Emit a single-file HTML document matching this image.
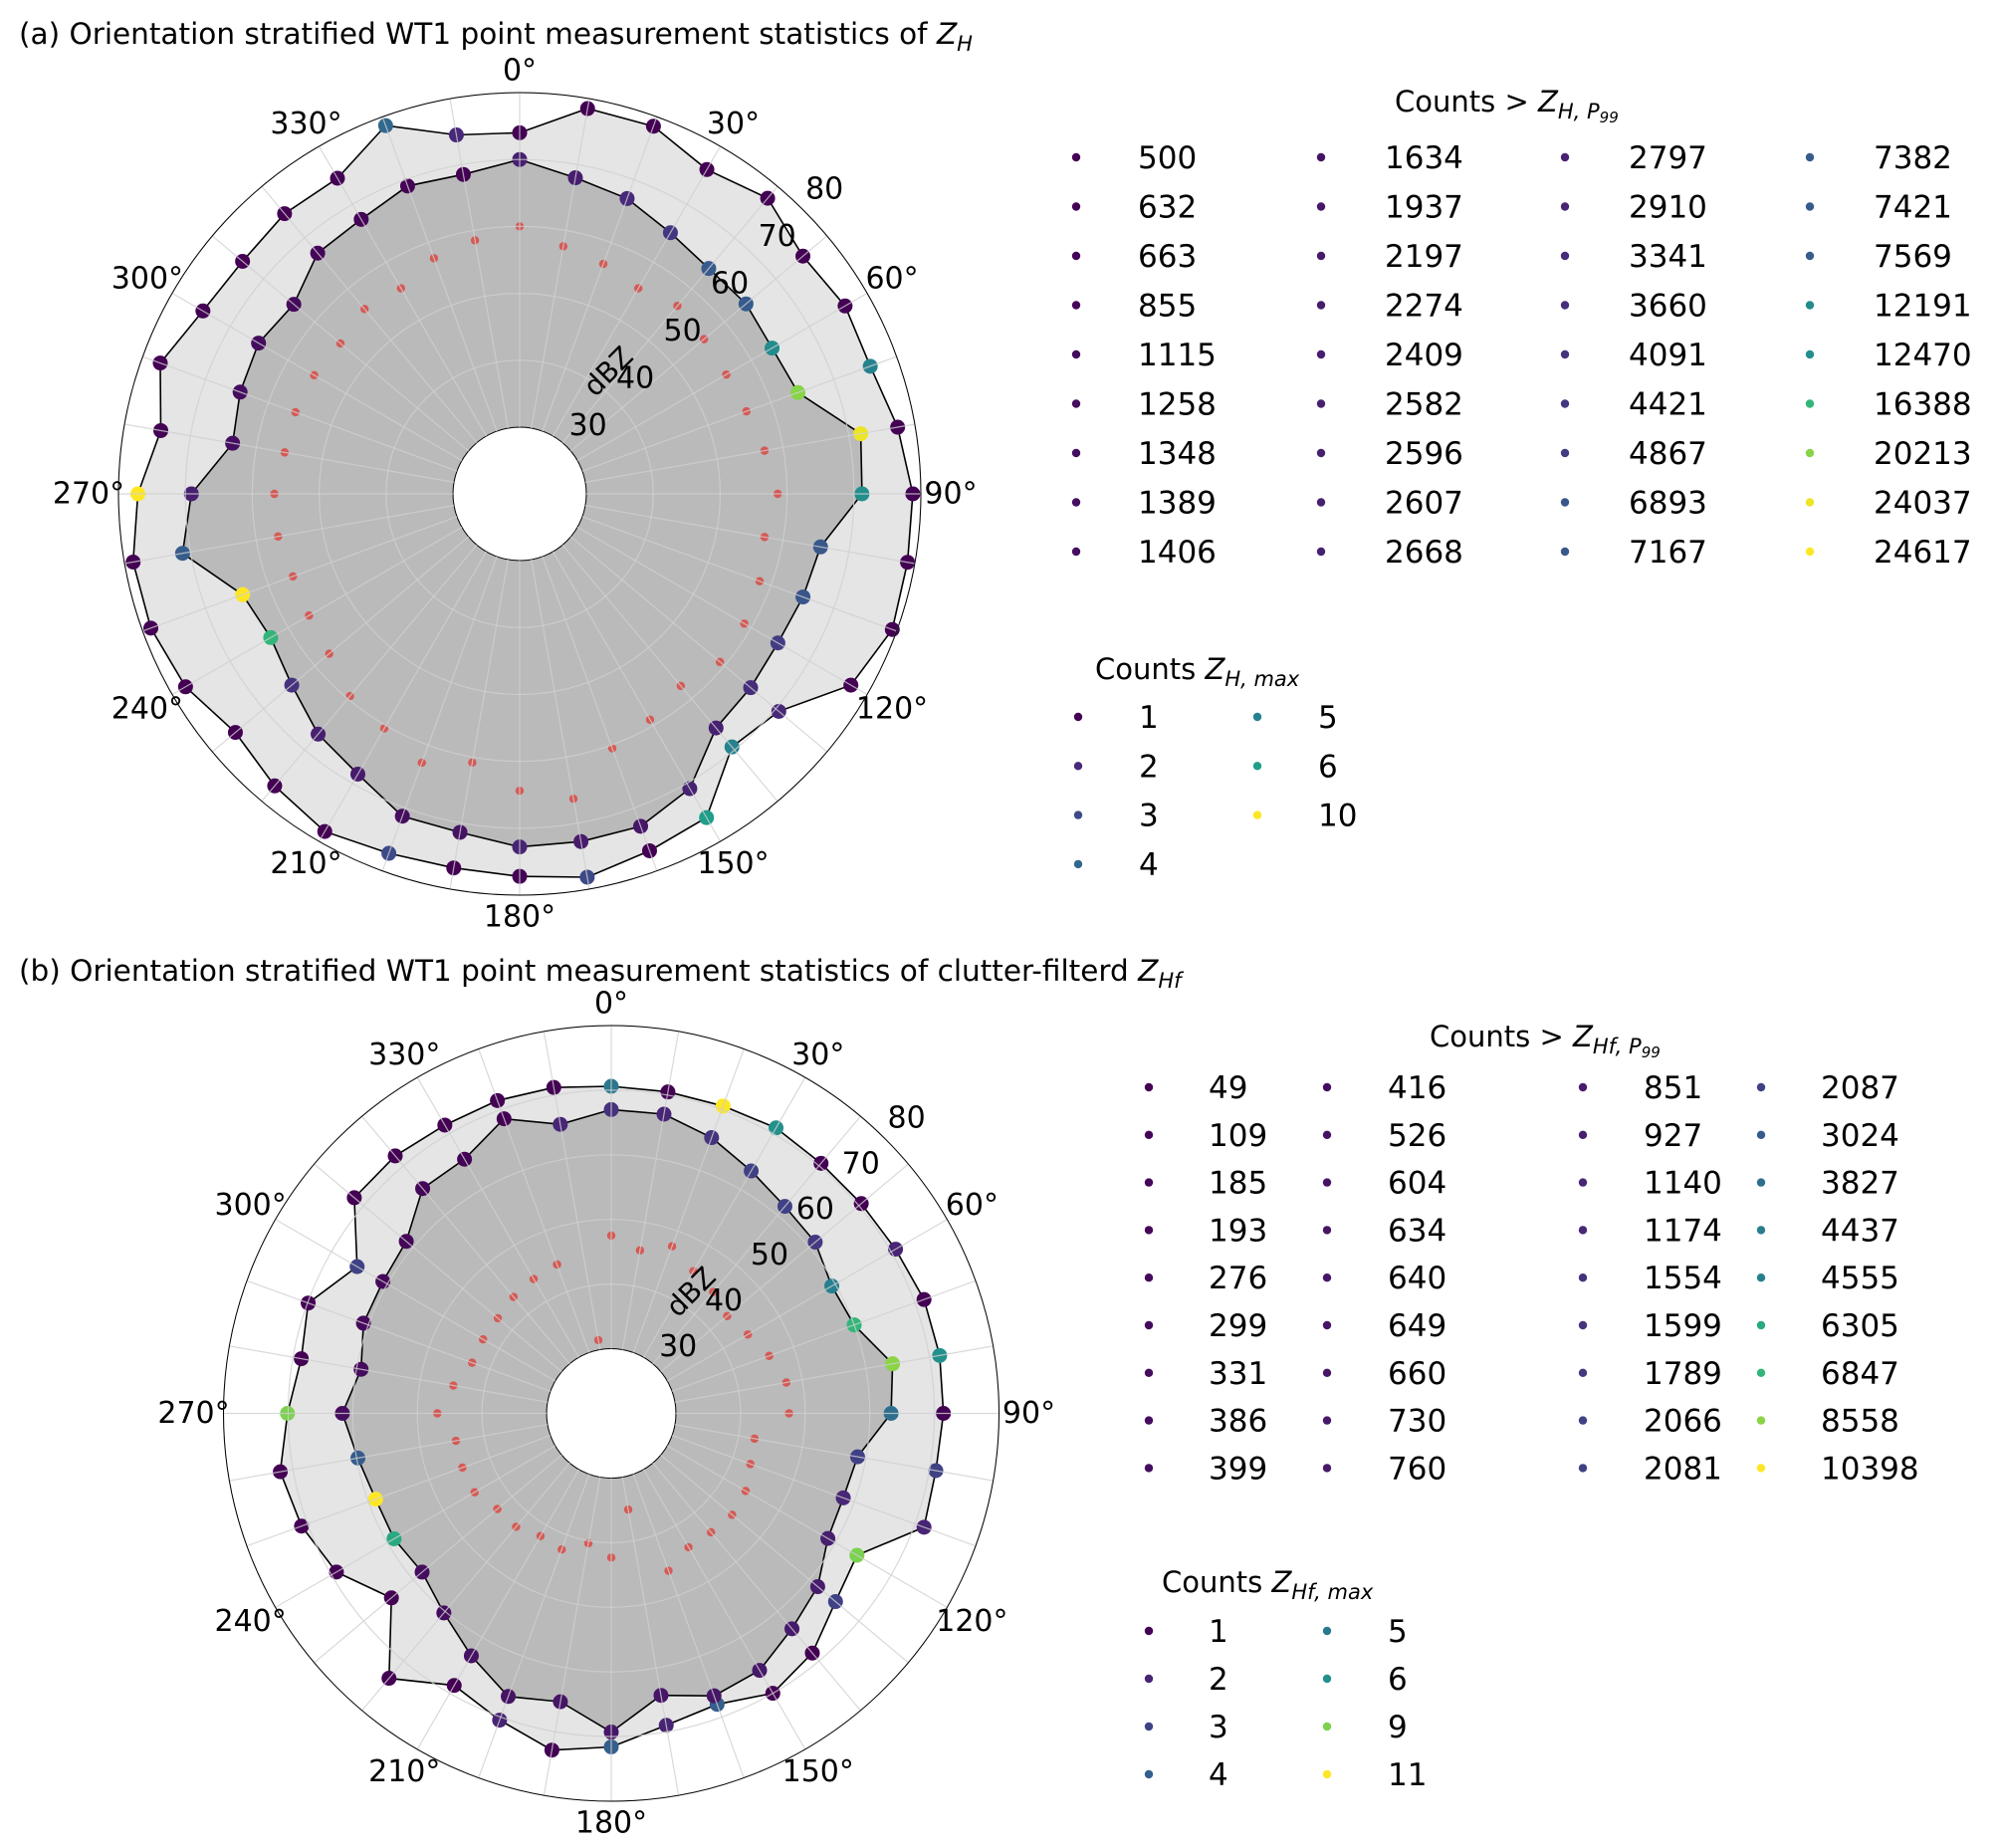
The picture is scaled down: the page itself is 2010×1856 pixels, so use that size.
<!DOCTYPE html>
<html><head><meta charset="utf-8">
<style>
html,body{margin:0;padding:0;background:#fff;}
svg{display:block;font-family:"DejaVu Sans","Liberation Sans",sans-serif;}
</style></head>
<body>
<svg id="fig" xmlns="http://www.w3.org/2000/svg" width="2010" height="1856" viewBox="0 0 2010 1856">
<text x="19" y="44" font-size="29.5">(a) Orientation stratified WT1 point measurement statistics of <tspan font-style="italic">Z</tspan><tspan font-style="italic" font-size="21" dy="7">H</tspan></text>
<text x="19" y="985" font-size="29.5">(b) Orientation stratified WT1 point measurement statistics of clutter-filterd <tspan font-style="italic">Z</tspan><tspan font-style="italic" font-size="21" dy="7">Hf</tspan></text>
<g id="chartA"></g>
<g id="chartB"></g>
<g id="legends"></g>
</svg>
<script>
const angles = [0,10,20,30,40,50,60,70,80,90,100,110,120,130,140,150,160,170,180,190,200,210,220,230,240,250,260,270,280,290,300,310,320,330,340,350];
const radialTicks = [30,40,50,60,70,80];
const angleTicks = [0,30,60,90,120,150,180,210,240,270,300,330];

// Chart A
const maxA = [74.0,78.5,78.5,76.0,77.7,75.3,76.2,75.8,77.4,78.8,78.9,79.3,77.2,70.6,69.4,75.9,76.8,78.2,77.2,76.8,77.2,78.3,77.0,75.5,77.7,78.7,78.7,77.1,74.5,77.2,74.7,74.1,74.7,74.5,78.6,74.5];
const p99A = [70.0,68.0,67.0,65.1,64.0,64.2,63.6,64.3,71.8,71.2,65.7,65.1,64.6,65.1,65.7,70.9,72.9,72.8,72.8,71.4,71.3,68.4,66.9,64.5,63.0,64.1,71.2,69.1,63.6,64.5,65.1,64.1,67.0,67.4,69.0,68.5];
const medA = [60.0,57.6,56.6,55.5,56.7,56.0,55.7,56.1,57.2,58.6,57.2,58.2,58.8,59.1,57.5,59.0,60.5,66.3,64.4,60.8,62.8,60.5,59.5,57.2,56.4,56.1,56.7,56.7,55.7,55.7,55.5,55.0,56.1,55.5,57.5,58.5];
const maxCountsA = [1,1,1,1,1,1,1,5,1,1,1,1,1,2,5,6,1,3,1,1,3,1,1,1,1,1,1,10,1,1,1,1,1,1,4,2];
const p99CountsA = [2582,2409,3341,4421,7382,7421,12191,20213,24037,12470,7167,6893,4867,3660,2668,2797,1937,2197,2910,1634,1406,2274,2596,4091,16388,24617,7569,2607,1389,1348,1258,1115,855,663,632,500];

// Chart B
const maxB = [70.6,70.5,70.6,71.0,70.5,70.5,70.8,71.5,71.6,71.4,71.0,71.5,63.9,65.3,68.4,70.0,67.9,69.0,71.6,72.9,70.5,68.6,73.5,64.4,69.1,71.0,72.0,70.1,68.7,69.9,65.4,71.9,72.0,71.5,71.5,71.2];
const p99B = [67.0,67.0,65.4,63.3,61.8,61.2,59.4,60.0,64.2,63.3,58.7,58.2,58.7,61.7,63.5,65.9,66.5,64.3,69.3,65.3,66.6,63.3,60.3,58.2,58.8,58.8,59.8,61.6,59.3,60.8,60.8,61.4,65.4,65.4,68.5,65.4];
const medB = [47.5,45.6,47.5,45.4,44.5,43.4,44.4,46.0,47.5,47.5,42.5,42.9,44.0,44.4,44.0,43.9,45.9,35.1,42.3,40.4,42.4,41.9,42.9,43.0,44.4,44.5,44.4,46.9,44.8,42.9,42.9,42.9,43.5,44.0,44.5,31.5];
const maxCountsB = [5,1,11,6,1,1,2,1,6,1,3,2,9,3,1,1,4,2,4,1,2,1,1,1,1,1,1,9,1,1,3,1,1,1,1,1];
const p99CountsB = [1554,1140,1599,2066,2081,1789,4555,6847,8558,3827,2087,1174,927,851,760,730,660,649,640,634,604,526,416,399,6305,10398,3024,386,331,299,276,193,185,109,49,1140];

// Legends
const legA1Values = [500,632,663,855,1115,1258,1348,1389,1406,1634,1937,2197,2274,2409,2582,2596,2607,2668,2797,2910,3341,3660,4091,4421,4867,6893,7167,7382,7421,7569,12191,12470,16388,20213,24037,24617];
const legA2Values = [1,2,3,4,5,6,10];
const legB1Values = [49,109,185,193,276,299,331,386,399,416,526,604,634,640,649,660,730,760,851,927,1140,1174,1554,1599,1789,2066,2081,2087,3024,3827,4437,4555,6305,6847,8558,10398];
const legB2Values = [1,2,3,4,5,6,9,11];

const VIR = ["#440154","#482878","#3e4989","#31688e","#26828e","#1f9e89","#35b779","#6ece58","#b5de2b","#fde725"];
function hex(c){return [parseInt(c.slice(1,3),16),parseInt(c.slice(3,5),16),parseInt(c.slice(5,7),16)];}
function viridis(t){
  t=Math.max(0,Math.min(1,t));
  const p=t*(VIR.length-1), i=Math.min(Math.floor(p),VIR.length-2), f=p-i;
  const a=hex(VIR[i]), b=hex(VIR[i+1]);
  return "rgb("+a.map((v,k)=>Math.round(v+(b[k]-v)*f)).join(",")+")";
}
function cmap(vals){const mn=Math.min(...vals),mx=Math.max(...vals);return v=>viridis((v-mn)/(mx-mn));}

const NS="http://www.w3.org/2000/svg";
function mk(tag,attrs,parent){const e=document.createElementNS(NS,tag);for(const k in attrs)e.setAttribute(k,attrs[k]);parent.appendChild(e);return e;}

function drawPolar(g, cfg, maxV, p99V, medV, maxC, p99C, maxLeg, p99Leg){
  const {cx,cy,r0,R,vmin,vmax,dbx,dby}=cfg;
  const rad=v=>r0+(v-vmin)/(vmax-vmin)*(R-r0);
  const pt=(a,v)=>{const t=a*Math.PI/180, r=rad(v);return [cx+r*Math.sin(t), cy-r*Math.cos(t)];};
  const poly=vals=>angles.map((a,i)=>pt(a,vals[i]).map(n=>n.toFixed(1)).join(",")).join(" ");
  let e;
  e=mk("polygon",{points:poly(maxV),fill:"#e5e5e5",stroke:"none"},g);
  
  
  e=mk("polygon",{points:poly(p99V),fill:"#bababa",stroke:"none"},g);
  
  
  e=mk("circle",{cx:cx,cy:cy,r:r0,fill:"#fff",stroke:"#000","stroke-width":1},g);
  
  
  e=mk("polygon",{points:poly(maxV),fill:"none",stroke:"#000","stroke-width":1.6},g);
  
  
  e=mk("polygon",{points:poly(p99V),fill:"none",stroke:"#000","stroke-width":1.6},g);
  
  
  const cMax=cmap(maxLeg), cP=cmap(p99Leg);
  angles.forEach((a,i)=>{
    let [x,y]=pt(a,maxV[i]);
    let m=mk("circle",{cx:x,cy:y,r:7.5,fill:cMax(maxC[i])},g);
    
    
    [x,y]=pt(a,p99V[i]);
    m=mk("circle",{cx:x,cy:y,r:7.5,fill:cP(p99C[i])},g);
    
    
    [x,y]=pt(a,medV[i]);
    m=mk("circle",{cx:x,cy:y,r:4.2,fill:"#d55a55"},g);
    
    
  });
  radialTicks.forEach(v=>{
    if(v===vmin) return;
    const c=mk("circle",{cx:cx,cy:cy,r:rad(v),fill:"none",stroke:"#d0d0d0","stroke-width":1.2,opacity:0.8},g);
    
    
  });
  angles.forEach(a=>{
    const [x1,y1]=pt(a,vmin),[x2,y2]=pt(a,vmax);
    const l=mk("line",{x1:x1,y1:y1,x2:x2,y2:y2,stroke:"#d0d0d0","stroke-width":1.2,opacity:0.8},g);
    
    
  });
  e=mk("circle",{cx:cx,cy:cy,r:R,fill:"none",stroke:"#000","stroke-width":1},g);
  
  
  angleTicks.forEach(a=>{
    const t=a*Math.PI/180;
    const r=R+22+8*Math.abs(Math.sin(t));
    const tx=mk("text",{x:cx+r*Math.sin(t),y:cy-r*Math.cos(t),"font-size":30,"text-anchor":"middle","dominant-baseline":"central"},g);
    tx.textContent=a+"°";
    
    
  });
  radialTicks.forEach(v=>{
    const r=rad(v)+30, t=45*Math.PI/180;
    const tx=mk("text",{x:cx+r*Math.sin(t),y:cy-r*Math.cos(t),"font-size":30,"text-anchor":"middle","dominant-baseline":"central"},g);
    tx.textContent=v;
    
    
  });
  const lx=cx+dbx, ly=cy+dby;
  const d=mk("text",{x:lx,y:ly,"font-size":28,"text-anchor":"middle","dominant-baseline":"central",transform:"rotate(-45 "+lx+" "+ly+")"},g);
  d.textContent="dBZ";
  
  
}

drawPolar(document.getElementById("chartA"),{cx:522,cy:496,r0:67,R:403,vmin:30,vmax:80,dbx:89,dby:-123},maxA,p99A,medA,maxCountsA,p99CountsA,legA2Values,legA1Values);
drawPolar(document.getElementById("chartB"),{cx:614,cy:1419.5,r0:65,R:389.5,vmin:30,vmax:80,dbx:80,dby:-122},maxB,p99B,medB,maxCountsB,p99CountsB,legB2Values,legB1Values);

function legend(g, title, sub1, sub2, tx, ty, vals, rows, colMark, colText, y0, dy){
  const t=mk("text",{x:tx,y:ty,"font-size":29},g);
  
  
  t.innerHTML=title+'<tspan font-style="italic">Z</tspan><tspan font-style="italic" font-size="21" dy="7">'+sub1+'</tspan>'+(sub2?'<tspan font-style="italic" font-size="15" dy="4">'+sub2+'</tspan>':'');
  const c=cmap(vals);
  vals.forEach((v,i)=>{
    const col=Math.floor(i/rows), row=i%rows, y=y0+row*dy;
    const m=mk("circle",{cx:colMark[col],cy:y,r:4.2,fill:c(v)},g);
    
    
    const s=mk("text",{x:colText[col],y:y+11,"font-size":31},g);
    s.textContent=v;
    
    
  });
}
const L=document.getElementById("legends");
legend(L,"Counts &gt; ","H, P","99",1401,112,legA1Values,9,[1081,1327,1572,1818],[1143,1391,1636,1882],158,49.5);
legend(L,"Counts ","H, max","",1100,682,legA2Values,4,[1083,1263],[1144,1324],720,49.3);
legend(L,"Counts &gt; ","Hf, P","99",1436,1051,legB1Values,9,[1154,1333,1590,1769],[1214,1394,1651,1829],1092,47.8);
legend(L,"Counts ","Hf, max","",1167,1599,legB2Values,4,[1154,1333],[1214,1394],1638,48);
</script>
</body></html>
